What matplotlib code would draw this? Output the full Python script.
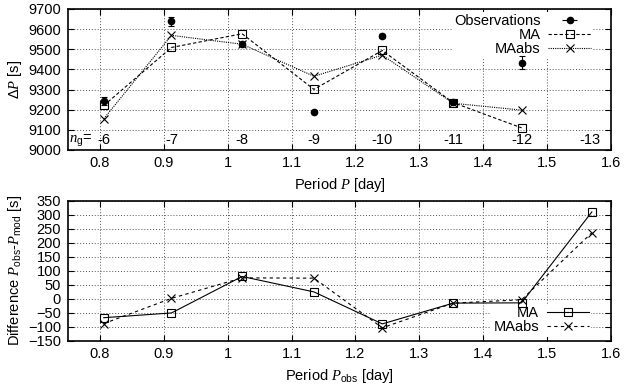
import matplotlib
matplotlib.use("Agg")
import matplotlib.pyplot as plt
from matplotlib.ticker import MultipleLocator

plt.rcParams["font.family"] = ["Liberation Sans", "DejaVu Sans"]
plt.rcParams["mathtext.fontset"] = "custom"
plt.rcParams["mathtext.rm"] = "Liberation Sans"
plt.rcParams["mathtext.it"] = "Liberation Serif:italic"
plt.rcParams["font.size"] = 10.5

# Period spacing ΔP versus period, radial orders n_g = -6 ... -12
period = [0.806, 0.912, 1.0225, 1.135, 1.242, 1.353, 1.460]
obs_dp = [9243, 9639, 9524, 9190, 9566, 9238, 9433]
obs_err = [18, 22, 8, 8, 8, 10, 33]
ma_dp = [9221, 9509, 9577, 9301, 9494, 9235, 9110]
maabs_dp = [9155, 9569, 9525, 9366, 9471, 9232, 9198]

# Period differences P_obs - P_mod
period_obs = [0.806, 0.912, 1.0225, 1.135, 1.242, 1.353, 1.460, 1.570]
ma_diff = [-67, -50, 80, 25, -89, -15, -14, 310]
maabs_diff = [-88, 2, 75, 74, -103, -15, -3, 236]

ng_pos = [0.806, 0.912, 1.0225, 1.135, 1.242, 1.353, 1.460, 1.567]
ng_labels = ["-6", "-7", "-8", "-9", "-10", "-11", "-12", "-13"]

xticks = [0.8, 0.9, 1.0, 1.1, 1.2, 1.3, 1.4, 1.5, 1.6]
xticklabels = ["0.8", "0.9", "1", "1.1", "1.2", "1.3", "1.4", "1.5", "1.6"]

fig = plt.figure(figsize=(6.25, 3.89), dpi=100)
ax1 = fig.add_axes([0.1088, 0.6144, 0.8688, 0.3625])
ax2 = fig.add_axes([0.1088, 0.1234, 0.8688, 0.3606])

for ax in (ax1, ax2):
    ax.set_xlim(0.75, 1.6)
    ax.set_xticks(xticks)
    ax.set_xticklabels(xticklabels)
    ax.tick_params(axis="x", direction="in", top=True, length=4, width=0.8,
                   labelsize=10.5, pad=4)
    ax.tick_params(axis="y", direction="in", right=True, length=4, width=0.8,
                   labelsize=10.5, pad=5)
    ax.grid(True, color="#555555", linestyle=(0, (1, 2)), linewidth=0.7)
    for s in ax.spines.values():
        s.set_linewidth(1.2)
    ax.set_axisbelow(True)


def style_legend(leg):
    fr = leg.get_frame()
    fr.set_edgecolor("none")
    fr.set_facecolor("white")
    fr.set_alpha(1)
    leg.set_zorder(2.5)


# Top panel
ax1.set_ylim(9000, 9700)
ax1.yaxis.set_major_locator(MultipleLocator(100))
ax1.errorbar(period, obs_dp, yerr=obs_err, fmt="o", color="black", ms=4.5,
             capsize=2.5, elinewidth=0.8, capthick=0.8, zorder=4)
ax1.plot(period, ma_dp, color="black", lw=0.8, linestyle=(0, (3, 2)),
         marker="s", ms=5.5, mfc="none", mew=0.8, zorder=3)
ax1.plot(period, maabs_dp, color="black", lw=0.8, linestyle=(0, (1, 1)),
         marker="x", ms=6, mew=0.8, zorder=3)

obs_proxy = ax1.errorbar([], [], xerr=[], fmt="o", color="black", ms=4.5,
                         capsize=3, elinewidth=0.8, capthick=0.8)
ma_proxy, = ax1.plot([], [], color="black", lw=0.8, linestyle=(0, (3, 2)),
                     marker="s", ms=5.5, mfc="none", mew=0.8)
maabs_proxy, = ax1.plot([], [], color="black", lw=0.8, linestyle=(0, (1, 1)),
                        marker="x", ms=6, mew=0.8)
leg1 = ax1.legend([obs_proxy, ma_proxy, maabs_proxy],
                  ["Observations", "MA", "MAabs"],
                  loc="upper right", bbox_to_anchor=(0.972, 1.0),
                  markerfirst=False, frameon=True, fontsize=10.5,
                  handlelength=2.9, handletextpad=0.55, labelspacing=0.0,
                  borderpad=0.15, borderaxespad=0.2, fancybox=False)
style_legend(leg1)

for x, lab in zip(ng_pos, ng_labels):
    ax1.text(x, 9048, lab, ha="center", va="center", fontsize=10.5)
ax1.text(0.751, 9048, r"$n_{\rm g}$=", ha="left", va="center", fontsize=10.5)

ax1.set_xlabel(r"Period $P$ [day]", labelpad=5)
ax1.set_ylabel(r"$\Delta P$ [s]", labelpad=3)

# Bottom panel
ax2.set_ylim(-150, 350)
ax2.yaxis.set_major_locator(MultipleLocator(50))
ax2.plot(period_obs, ma_diff, color="black", lw=0.8, linestyle="-",
         marker="s", ms=6, mfc="none", mew=0.8, label="MA", zorder=3)
ax2.plot(period_obs, maabs_diff, color="black", lw=0.8, linestyle=(0, (3, 3)),
         marker="x", ms=6, mew=0.8, label="MAabs", zorder=3)
leg2 = ax2.legend(loc="lower right", bbox_to_anchor=(0.972, 0.0),
                  markerfirst=False, frameon=True, fontsize=10.5,
                  handlelength=2.9, handletextpad=0.55, labelspacing=0.0,
                  borderpad=0.15, borderaxespad=0.3, fancybox=False)
style_legend(leg2)

ax2.set_xlabel(r"Period $P_{\rm obs}$ [day]", labelpad=5)
ax2.set_ylabel(r"Difference $P_{\rm obs}$-$P_{\rm mod}$ [s]", labelpad=3)

fig.savefig("out.png", dpi=100)
